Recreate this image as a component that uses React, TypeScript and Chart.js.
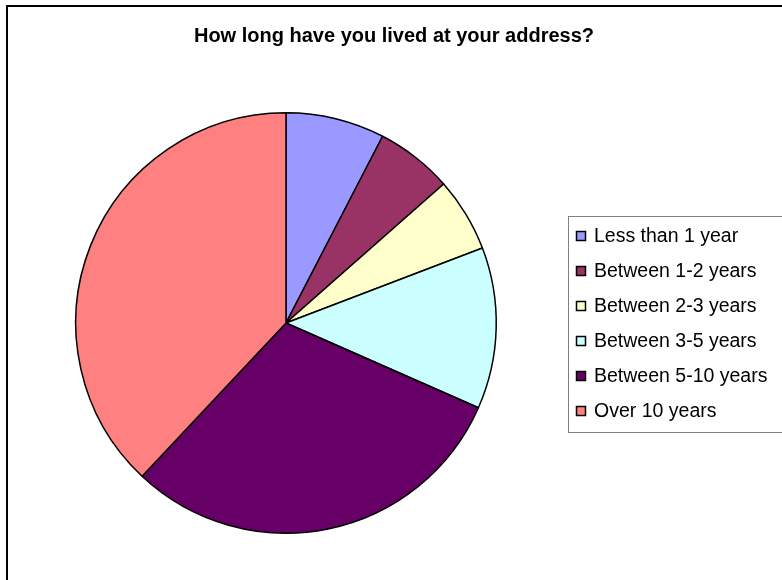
import React, { useEffect, useRef } from "react";
import { Chart, registerables } from "chart.js";

Chart.register(...registerables);

const title = "How long have you lived at your address?";
const categories = [
  "Less than 1 year",
  "Between 1-2 years",
  "Between 2-3 years",
  "Between 3-5 years",
  "Between 5-10 years",
  "Over 10 years",
];
const shares = [7.6, 5.9, 5.7, 12.4, 30.4, 38.0];
const colors = ["#9999FF", "#993366", "#FFFFCC", "#CCFFFF", "#660066", "#FF8080"];

const decorPlugin = {
  id: "decor",
  afterDraw(chart: any) {
    const ctx = chart.ctx;
    ctx.save();
    // outer frame
    ctx.strokeStyle = "#000";
    ctx.lineWidth = 2;
    ctx.beginPath();
    ctx.moveTo(7, 700);
    ctx.lineTo(7, 6);
    ctx.lineTo(900, 6);
    ctx.stroke();
    // title
    ctx.fillStyle = "#000";
    ctx.font = "bold 20px 'Liberation Sans', Arial, sans-serif";
    ctx.textAlign = "center";
    ctx.textBaseline = "middle";
    ctx.fillText(title, 394, 36);
    // legend box
    ctx.strokeStyle = "#808080";
    ctx.lineWidth = 1;
    ctx.strokeRect(568.5, 216.5, 400, 216);
    const labels = chart.data.labels as string[];
    const bg = chart.data.datasets[0].backgroundColor as string[];
    ctx.font = "19.5px 'Liberation Sans', Arial, sans-serif";
    ctx.textAlign = "left";
    for (let i = 0; i < labels.length; i++) {
      const y = 236 + i * 35;
      ctx.fillStyle = bg[i];
      ctx.fillRect(576, y - 5, 10, 10);
      ctx.strokeStyle = "#000";
      ctx.lineWidth = 1.5;
      ctx.strokeRect(576.5, y - 4.5, 9, 9);
      ctx.fillStyle = "#000";
      ctx.fillText(labels[i], 594, y + 1);
    }
    ctx.restore();
  },
};

export default function App() {
  const ref = useRef<HTMLCanvasElement>(null);
  useEffect(() => {
    if (!ref.current) return;
    const chart = new Chart(ref.current, {
      type: "pie",
      data: {
        labels: categories,
        datasets: [
          {
            data: shares,
            backgroundColor: colors,
            borderColor: "#000",
            borderWidth: 1.5,
          },
        ],
      },
      options: {
        animation: false,
        responsive: false,
        layout: { padding: { left: 75, top: 112, right: 285, bottom: 46 } },
        plugins: {
          legend: { display: false },
          tooltip: { enabled: false },
          title: { display: false },
        },
      },
      plugins: [decorPlugin],
    });
    return () => chart.destroy();
  }, []);
  return (
    <div style={{ position: "fixed", left: 0, top: 0, width: 782, height: 580, background: "#fff" }}>
      <canvas ref={ref} width={782} height={580} style={{ width: 782, height: 580, display: "block" }} />
    </div>
  );
}
